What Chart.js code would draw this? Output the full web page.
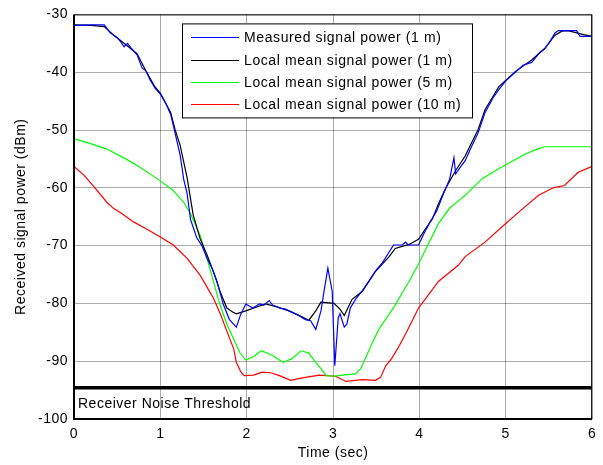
<!DOCTYPE html>
<html>
<head>
<meta charset="utf-8">
<script src="https://cdn.jsdelivr.net/npm/chart.js@4.4.0/dist/chart.umd.min.js"></script>
<style>
  body { margin: 0; background: #fff; }
  #wrap { width: 603px; height: 465px; }
</style>
</head>
<body>
<div id="wrap"><canvas id="powerChart" width="603" height="465"></canvas></div>
<script>
// Measured signal power (1 m)
var measuredTime = [0, 0.2, 0.3, 0.35, 0.42, 0.5, 0.54, 0.58, 0.62, 0.66, 0.73, 0.79, 0.83, 0.88, 0.94, 1.0, 1.06, 1.12, 1.17, 1.23, 1.27, 1.31, 1.35, 1.42, 1.48, 1.54, 1.6, 1.65, 1.73, 1.8, 1.88, 1.93, 1.99, 2.07, 2.15, 2.2, 2.26, 2.3, 2.38, 2.45, 2.53, 2.6, 2.68, 2.74, 2.8, 2.86, 2.9, 2.94, 2.99, 3.02, 3.06, 3.08, 3.13, 3.16, 3.2, 3.26, 3.34, 3.42, 3.49, 3.57, 3.65, 3.7, 3.8, 3.84, 3.87, 3.99, 4.05, 4.12, 4.2, 4.28, 4.35, 4.4, 4.42, 4.47, 4.53, 4.6, 4.68, 4.76, 4.85, 4.92, 5.0, 5.11, 5.2, 5.3, 5.4, 5.45, 5.52, 5.57, 5.61, 5.82, 5.86, 6.0];
var measuredPower = [-31.9, -31.8, -31.8, -31.8, -33.2, -34.0, -34.7, -35.6, -35.0, -35.8, -37.0, -39.3, -39.7, -41.3, -42.8, -43.8, -45.3, -47.3, -50.5, -54.4, -58.5, -61.0, -65.5, -68.6, -70.0, -72.2, -74.0, -75.9, -80.2, -82.8, -84.1, -81.9, -80.1, -80.8, -80.1, -80.3, -79.5, -80.3, -80.8, -81.0, -81.6, -82.1, -82.8, -83.0, -84.5, -81.3, -77.5, -73.9, -77.9, -90.8, -82.5, -81.8, -84.1, -83.6, -80.8, -79.3, -77.8, -76.0, -74.4, -73.0, -71.1, -69.9, -69.9, -69.4, -69.9, -69.9, -68.0, -66.0, -64.0, -61.0, -58.5, -54.8, -57.6, -56.5, -55.3, -53.0, -50.5, -47.0, -44.5, -43.0, -41.5, -40.0, -38.8, -38.3, -36.5, -36.0, -34.5, -33.2, -32.8, -32.8, -33.8, -33.8];

// Local mean signal power (1 m)
var mean1Time = [0, 0.2, 0.35, 0.46, 0.58, 0.73, 0.83, 0.94, 1.0, 1.12, 1.17, 1.23, 1.31, 1.38, 1.46, 1.54, 1.615, 1.69, 1.77, 1.85, 1.88, 1.99, 2.1, 2.22, 2.35, 2.49, 2.6, 2.72, 2.8, 2.86, 2.95, 3.01, 3.08, 3.13, 3.22, 3.34, 3.49, 3.65, 3.72, 3.88, 3.99, 4.07, 4.15, 4.22, 4.3, 4.42, 4.53, 4.68, 4.76, 4.92, 5.11, 5.3, 5.45, 5.57, 5.65, 5.72, 5.8, 5.9, 6.0];
var mean1Power = [-31.8, -31.9, -32.1, -33.6, -35.0, -36.8, -39.7, -42.6, -43.6, -47.0, -49.9, -52.7, -58.3, -64.7, -68.8, -71.6, -74.5, -77.9, -80.8, -81.6, -81.8, -81.3, -80.7, -80.1, -80.6, -81.3, -82.0, -82.9, -81.3, -79.8, -79.9, -80.0, -81.0, -82.1, -79.3, -77.9, -74.5, -71.9, -70.5, -69.8, -68.9, -67.1, -65.4, -62.8, -60.2, -57.0, -54.5, -49.9, -46.5, -42.5, -39.9, -37.9, -35.9, -33.6, -32.9, -32.8, -33.1, -33.5, -33.8];

// Local mean signal power (5 m)
var mean5Time = [0, 0.2, 0.38, 0.6, 0.77, 1.0, 1.15, 1.27, 1.35, 1.46, 1.54, 1.615, 1.69, 1.77, 1.85, 1.92, 1.99, 2.08, 2.17, 2.3, 2.42, 2.52, 2.63, 2.72, 2.8, 2.86, 2.92, 3.0, 3.11, 3.26, 3.32, 3.38, 3.45, 3.53, 3.62, 3.72, 3.8, 3.88, 3.99, 4.1, 4.22, 4.35, 4.45, 4.53, 4.72, 4.85, 4.99, 5.1, 5.22, 5.35, 5.45, 5.6, 6.0];
var mean5Power = [-51.5, -52.4, -53.3, -55.0, -56.5, -58.8, -60.5, -62.5, -64.5, -68.2, -72.2, -76.2, -80.2, -83.6, -86.2, -88.5, -89.8, -89.2, -88.2, -89.0, -90.2, -89.6, -88.2, -88.6, -90.2, -91.3, -92.5, -92.6, -92.4, -92.2, -91.3, -89.3, -87.0, -84.5, -82.5, -80.3, -78.2, -76.2, -73.2, -69.8, -66.2, -63.5, -62.3, -61.3, -58.5, -57.3, -56.1, -55.2, -54.2, -53.4, -52.9, -52.9, -52.9];

// Local mean signal power (10 m)
var mean10Time = [0, 0.12, 0.23, 0.38, 0.46, 0.54, 0.69, 0.85, 1.0, 1.15, 1.31, 1.46, 1.615, 1.7, 1.77, 1.85, 1.88, 1.93, 1.97, 2.08, 2.18, 2.28, 2.38, 2.51, 2.6, 2.68, 2.84, 3.03, 3.15, 3.34, 3.49, 3.55, 3.61, 3.68, 3.76, 3.84, 3.99, 4.22, 4.45, 4.53, 4.76, 4.99, 5.15, 5.38, 5.55, 5.68, 5.84, 6.0];
var mean10Power = [-56.3, -57.9, -59.8, -62.5, -63.6, -64.3, -65.9, -67.2, -68.5, -69.9, -72.2, -75.1, -79.1, -82.0, -84.8, -87.9, -90.2, -91.8, -92.5, -92.4, -91.9, -92.0, -92.5, -93.3, -93.0, -92.8, -92.4, -92.6, -93.5, -93.2, -93.3, -92.8, -90.8, -89.5, -87.5, -85.3, -80.8, -76.2, -73.4, -71.9, -69.4, -66.3, -64.2, -61.3, -60.0, -59.6, -57.3, -56.3];

var noiseThreshold = -94.6;
var noiseLabel = "Receiver Noise Threshold";

var seriesLabels = [
  "Measured signal power (1 m)",
  "Local mean signal power (1 m)",
  "Local mean signal power (5 m)",
  "Local mean signal power (10 m)"
];
var seriesColors = ["#0000ff", "#000000", "#00ff00", "#ff0000"];

function toPoints(xs, ys) {
  var pts = [];
  for (var i = 0; i < xs.length; i++) {
    pts.push({ x: xs[i], y: ys[i] });
  }
  return pts;
}

var fontFamily = "'Liberation Sans', Arial, sans-serif";

var datasets = [
  toPoints(measuredTime, measuredPower),
  toPoints(mean1Time, mean1Power),
  toPoints(mean5Time, mean5Power),
  toPoints(mean10Time, mean10Power)
].map(function (pts, i) {
  return {
    label: seriesLabels[i],
    data: pts,
    borderColor: seriesColors[i],
    backgroundColor: seriesColors[i],
    borderWidth: 1.2,
    pointRadius: 0,
    tension: 0,
    fill: false
  };
});

datasets.push({
  label: noiseLabel,
  data: [{ x: 0, y: noiseThreshold }, { x: 6, y: noiseThreshold }],
  borderColor: "#000000",
  borderWidth: 3.5,
  pointRadius: 0,
  fill: false
});

// box, legend and threshold caption, drawn on top
var matlabLook = {
  id: "matlabLook",
  beforeDraw: function (chart) {
    // reference text is set a little wide
    chart.ctx.letterSpacing = "0.5px";
  },
  afterDatasetsDraw: function (chart) {
    var ctx = chart.ctx;
    var area = chart.chartArea;
    var yScale = chart.scales.y;
    ctx.save();

    // axes box
    ctx.strokeStyle = "#000";
    ctx.lineWidth = 1;
    ctx.strokeRect(area.left + 0.5, area.top + 0.5, area.right - area.left - 1, area.bottom - area.top - 1);
    ctx.lineWidth = 2;
    ctx.beginPath();
    ctx.moveTo(area.left, area.top);
    ctx.lineTo(area.left, area.bottom);
    ctx.lineTo(area.right, area.bottom);
    ctx.stroke();

    // threshold caption
    ctx.letterSpacing = "0.5px";
    ctx.fillStyle = "#000";
    ctx.font = "14px " + fontFamily;
    ctx.textBaseline = "middle";
    ctx.textAlign = "left";
    var capY = yScale.getPixelForValue((noiseThreshold + yScale.min) / 2);
    ctx.fillText(noiseLabel, area.left + 4, capY + 1);

    // legend
    ctx.letterSpacing = "0.6px";
    var lx = area.left + 108, ly = area.top + 9, lw = 290, lh = 94;
    ctx.fillStyle = "#fff";
    ctx.fillRect(lx, ly, lw, lh);
    ctx.strokeStyle = "#000";
    ctx.lineWidth = 1;
    ctx.strokeRect(lx + 0.5, ly + 0.5, lw, lh);
    for (var i = 0; i < seriesLabels.length; i++) {
      var ry = ly + 14 + i * 22.3;
      ctx.strokeStyle = seriesColors[i];
      ctx.lineWidth = 1.2;
      ctx.beginPath();
      ctx.moveTo(lx + 9, Math.round(ry) + 0.5);
      ctx.lineTo(lx + 57, Math.round(ry) + 0.5);
      ctx.stroke();
      ctx.fillStyle = "#000";
      ctx.fillText(seriesLabels[i], lx + 62, ry + 1);
    }
    ctx.restore();
  }
};

var gridColor = "rgba(0,0,0,0.33)";

new Chart(document.getElementById("powerChart"), {
  type: "line",
  data: { datasets: datasets },
  options: {
    responsive: false,
    animation: false,
    layout: { padding: { top: 10, right: 6, left: 0, bottom: 0 } },
    plugins: {
      legend: { display: false },
      tooltip: { enabled: false }
    },
    scales: {
      x: {
        type: "linear",
        min: 0,
        max: 6,
        ticks: {
          stepSize: 1,
          color: "#000",
          padding: 7,
          maxRotation: 0,
          font: { family: fontFamily, size: 14 }
        },
        grid: { color: gridColor, drawTicks: false, lineWidth: 1 },
        border: { display: false },
        title: {
          display: true,
          text: "Time (sec)",
          color: "#000",
          padding: { top: 2, bottom: 3 },
          font: { family: fontFamily, size: 14 }
        },
        afterFit: function (scale) { scale.height = 46; }
      },
      y: {
        type: "linear",
        min: -100,
        max: -30,
        ticks: {
          stepSize: 10,
          color: "#000",
          padding: 6,
          font: { family: fontFamily, size: 14 }
        },
        grid: { color: gridColor, drawTicks: false, lineWidth: 1 },
        border: { display: false },
        title: {
          display: true,
          text: "Received signal power (dBm)",
          color: "#000",
          padding: { top: 13, bottom: 4 },
          font: { family: fontFamily, size: 14 }
        },
        afterFit: function (scale) { scale.width = 74; }
      }
    }
  },
  plugins: [matlabLook]
});
</script>
</body>
</html>
